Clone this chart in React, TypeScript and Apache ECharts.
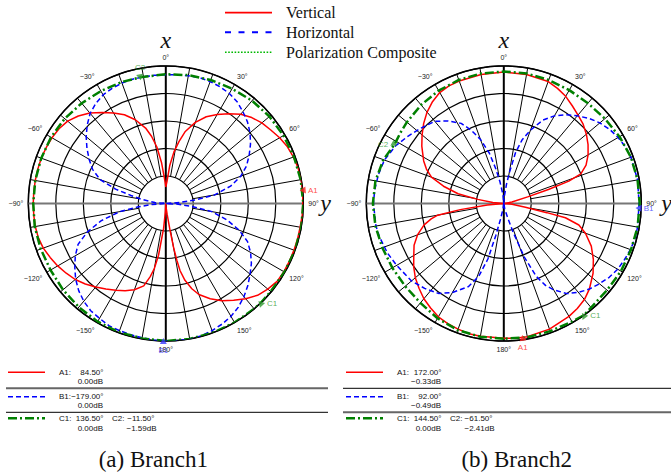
import React, { useEffect, useRef } from 'react';
import * as echarts from 'echarts';

// ---------- layout ----------
const W = 671;
const H = 472;
const CX = [165.8, 503.8];
const CY = 203.5;
const R = 137.5;
const Y_LABEL_GAP = [17, 20];

// ---------- axes ----------
const angleTicks = [-180, -150, -120, -90, -60, -30, 0, 30, 60, 90, 120, 150, 180];
const ringLevels = [-5, -10, -15, -20];
const spokeAngles = [-170, -160, -150, -140, -130, -120, -110, -100, -80, -70, -60, -50, -40, -30, -20, -10,
  10, 20, 30, 40, 50, 60, 70, 80, 100, 110, 120, 130, 140, 150, 160, 170];

// ---------- Branch1 ----------
const b1VertAng = [-180, -177, -175, -172, -170, -168, -165, -160, -155, -150, -145, -140, -135, -130, -125, -120, -115, -110, -105, -100, -95, -90, -85, -80, -75, -70, -65, -60, -55, -50, -45, -40, -35, -30, -25, -20, -15, -12, -9, -6, -4, -2, 0, 3, 6, 9, 12, 15, 20, 25, 30, 35, 40, 45, 50, 55, 60, 65, 70, 75, 80, 85, 90, 95, 100, 105, 110, 115, 120, 125, 130, 135, 140, 145, 150, 155, 160, 163, 166, 168, 169, 170, 171, 173, 177, 180];
const b1VertDb = [-25, -23.5, -20.5, -15.5, -13, -11.4, -9.5, -8.3, -7.5, -6.8, -6.0, -5.2, -4.3, -3.5, -2.9, -2.3, -1.8, -1.3, -1.0, -0.9, -0.9, -0.9, -0.9, -0.9, -0.9, -0.9, -1.0, -1.1, -1.3, -1.7, -2.5, -3.5, -4.8, -6.0, -7.2, -8.8, -10.8, -12.5, -14.6, -17.5, -19.8, -21, -22, -21, -18, -15.5, -13.5, -11.5, -9.3, -7.6, -6.3, -5.1, -3.8, -2.9, -2.2, -1.7, -1.1, -0.6, -0.3, -0.1, 0, 0, -0.1, -0.1, -0.2, -0.2, -0.2, -0.2, -0.2, -0.3, -0.8, -1.4, -2.4, -3.5, -4.6, -5.9, -7.4, -8.8, -10.6, -12.5, -14.5, -17, -20, -23, -24.5, -25];

const b1HorAng = [-180, -175, -170, -165, -160, -155, -150, -145, -140, -135, -130, -125, -120, -115, -110, -105, -100, -97, -94, -90, -85, -80, -77, -74, -70, -65, -60, -55, -50, -45, -40, -35, -30, -25, -20, -15, -10, -5, 0, 5, 10, 15, 20, 25, 30, 35, 40, 45, 50, 55, 60, 65, 70, 75, 80, 83, 86, 90, 93, 96, 100, 105, 110, 115, 120, 125, 130, 135, 140, 145, 150, 155, 160, 165, 170, 175, 180];
const b1HorDb = [0, -0.1, -0.2, -0.3, -0.4, -0.5, -0.9, -1.2, -1.8, -2.6, -3.6, -4.8, -6.0, -7.4, -9.8, -12.8, -16.5, -20, -22.5, -25, -23, -20.5, -18.5, -15.5, -12.3, -10.3, -8.9, -7.5, -6.1, -4.8, -3.6, -2.8, -2.2, -1.9, -1.7, -1.6, -1.6, -1.6, -1.6, -1.5, -1.4, -1.3, -1.4, -1.6, -1.9, -2.4, -3.2, -4.0, -5.0, -6.2, -7.5, -8.8, -10.5, -12.8, -16, -19.5, -22.5, -25, -23, -20.5, -16.5, -13.5, -10.8, -8.6, -7.2, -6.0, -5.0, -3.9, -2.9, -2.0, -1.3, -0.8, -0.4, -0.1, 0, 0, 0];

const b1CompAng = [-180, -170, -160, -150, -140, -130, -120, -110, -100, -90, -80, -70, -60, -50, -40, -30, -20, -11.5, 0, 10, 20, 30, 40, 50, 60, 70, 80, 90, 100, 110, 120, 130, 136.5, 140, 150, 160, 170, 180];
const b1CompDb = [0, -0.1, -0.1, -0.2, -0.4, -0.6, -0.8, -0.8, -0.8, -0.9, -0.9, -0.9, -0.9, -1.0, -1.2, -1.4, -1.5, -1.59, -1.5, -1.3, -1.1, -0.9, -0.6, -0.4, -0.3, -0.2, -0.1, 0, 0, 0, -0.1, -0.1, 0, 0, 0, 0, 0, 0];

const b1MarkNames = ['A1', 'B1', 'C1', 'C2'];
const b1MarkAng = [84.5, -179, 136.5, -11.5];
const b1MarkDb = [0, 0, 0, -1.59];

// ---------- Branch2 ----------
const b2VertAng = [-180, -170, -165, -160, -155, -150, -145, -140, -135, -130, -125, -120, -115, -110, -105, -102, -100, -98, -95, -90, -85, -81, -78, -74, -70, -66, -62, -58, -55, -50, -45, -40, -35, -30, -25, -20, -10, 0, 10, 20, 25, 30, 35, 40, 45, 50, 55, 60, 65, 69, 71, 72.5, 74.5, 80, 90, 95, 100, 102, 103, 106, 110, 116, 122, 128, 135, 140, 145, 150, 160, 170, 175, 180];
const b2VertDb = [-0.5, -0.5, -0.5, -0.7, -0.9, -1.2, -1.8, -2.4, -3.2, -4.0, -5.0, -6.1, -7.0, -8.3, -10.0, -11.5, -12.8, -17, -22, -25, -23, -20.2, -16.5, -13.6, -11, -9.6, -8.5, -7.6, -6.8, -5.6, -4.4, -3.3, -2.4, -1.7, -1.4, -1.3, -1.2, -1.1, -1.2, -1.4, -1.9, -2.5, -3.3, -4.0, -4.6, -5.4, -6.3, -7.3, -8.5, -10.0, -12.5, -16.5, -20.5, -23.5, -25, -23.5, -21, -17, -13.5, -10.8, -9.2, -7.3, -5.8, -4.4, -3.0, -2.2, -1.7, -1.3, -0.7, -0.4, -0.4, -0.5];

const b2HorAng = [-180, -172, -168, -166, -164, -161, -157, -150, -144, -137, -130, -120, -113, -105, -100, -90, -84, -77, -70, -62, -55, -48, -40, -34, -28, -24, -20, -16, -13, -10, -5, 0, 5, 8, 10, 13, 16, 20, 25, 30, 35, 40, 45, 50, 55, 60, 65, 70, 80, 90, 100, 105, 110, 115, 120, 125, 130, 135, 140, 145, 150, 153, 156, 159, 162, 165, 170, 180];
const b2HorDb = [-25, -24, -22, -19, -14.5, -11, -8.6, -6.3, -4.8, -3.9, -3.1, -2.5, -2.0, -1.6, -1.4, -1.3, -1.4, -1.6, -1.9, -2.7, -3.7, -4.6, -5.5, -6.9, -8.5, -10.4, -12.6, -15.5, -18.5, -21, -23.5, -25, -23.5, -21.5, -19.5, -15.5, -13, -10.8, -8.3, -6.6, -5.3, -4.2, -3.1, -2.2, -1.5, -1.0, -0.6, -0.4, -0.3, -0.4, -0.3, -0.3, -0.5, -0.8, -1.1, -1.6, -2.3, -3.0, -3.9, -5.0, -6.9, -8.3, -10.5, -14.5, -19.5, -22.5, -24, -25];

const b2CompAng = [-180, -170, -160, -150, -140, -130, -120, -110, -100, -90, -80, -70, -61.5, -55, -50, -40, -30, -20, -10, 0, 10, 20, 30, 40, 50, 60, 70, 80, 90, 100, 110, 120, 130, 140, 144.5, 150, 160, 170, 180];
const b2CompDb = [-0.4, -0.4, -0.5, -0.9, -1.4, -1.6, -1.6, -1.5, -1.3, -1.2, -1.3, -1.7, -2.41, -2.2, -2.0, -1.6, -1.3, -1.1, -1.0, -1.0, -1.0, -1.1, -1.2, -1.2, -1.0, -0.7, -0.4, -0.3, -0.3, -0.3, -0.4, -0.4, -0.5, -0.3, 0, -0.2, -0.3, -0.3, -0.4];

const b2MarkNames = ['A1', 'B1', 'C1', 'C2'];
const b2MarkAng = [172, 92, 144.5, -61.5];
const b2MarkDb = [-0.33, -0.49, 0, -2.41];

// ---------- styles ----------
const RED = '#ff0000';
const BLUE = '#0000ff';
const GREEN = '#008000';
const markColors = ['#ff2020', '#3a3aff', '#2f9a2f', '#2f9a2f'];
const b1LabelPos = ['right', 'bottom', 'right', 'top'];
const b2LabelPos = ['bottom', 'right', 'right', 'left'];
const SANS = '"Liberation Sans", Arial, sans-serif';
const SERIF = '"Liberation Serif", "Times New Roman", serif';

const pairs = (ang: number[], db: number[]) => ang.map((a, i) => [db[i], a]);
const fmtNum = (v: number) => (v < 0 ? '\u2212' : '') + Math.abs(v).toFixed(2);
const fmtAngle = (v: number) => {
  const a = v === -180 ? 180 : v;
  return (a < 0 ? '\u2212' + -a : String(a)) + '°';
};

function polarSeries(pi: number, vAng: number[], vDb: number[], hAng: number[], hDb: number[],
  cAng: number[], cDb: number[], mNames: string[], mAng: number[], mDb: number[], mPos: string[]) {
  const spokeData: any[] = [];
  spokeAngles.forEach((a) => { spokeData.push([-20, a], [0, a], ['-', '-']); });
  const base = { coordinateSystem: 'polar', polarIndex: pi, symbol: 'none', silent: true, animation: false };
  return [
    { ...base, type: 'line', data: spokeData, lineStyle: { color: '#000', width: 1 }, z: 1 },
    { ...base, type: 'line', data: [[0, 0], [-25, 0], [0, 180]], lineStyle: { color: '#000', width: 2 }, z: 1 },
    { ...base, type: 'line', data: [[0, -90], [-25, 0], [0, 90]], lineStyle: { color: '#777', width: 2 }, z: 1 },
    {
      ...base, type: 'scatter', symbolSize: 1, itemStyle: { color: 'rgba(0,0,0,0)' },
      data: ringLevels.map((r) => [r, 0]),
      label: { show: true, position: 'right', distance: 1, fontSize: 7, color: '#111', fontFamily: SANS, formatter: (p: any) => String(-p.value[0]) }, z: 3,
    },
    {
      ...base, type: 'scatter', symbolSize: 1, itemStyle: { color: 'rgba(0,0,0,0)' },
      data: ringLevels.map((r) => [r, 180]),
      label: { show: true, position: 'left', distance: 1, fontSize: 7, color: '#111', fontFamily: SANS, formatter: (p: any) => String(-p.value[0]) }, z: 3,
    },
    { ...base, type: 'line', name: 'Vertical', data: pairs(vAng, vDb), lineStyle: { color: RED, width: 1.5 }, z: 4 },
    { ...base, type: 'line', name: 'Horizontal', data: pairs(hAng, hDb), lineStyle: { color: BLUE, width: 1.5, type: [5, 3] }, z: 5 },
    { ...base, type: 'line', name: 'Polarization Composite', data: pairs(cAng, cDb), lineStyle: { color: GREEN, width: 2.5, type: [9, 3, 2, 3] }, z: 6 },
    {
      ...base, type: 'scatter', symbol: 'triangle', symbolSize: [7, 6], z: 8,
      data: mNames.map((n, i) => ({
        name: n, value: [mDb[i], mAng[i]], symbolRotate: -(mAng[i] + 180),
        itemStyle: { color: markColors[i] },
        label: { show: true, position: mPos[i], distance: 2, formatter: n, color: markColors[i], fontSize: 8, fontFamily: SANS },
      })),
    },
  ];
}

function tableGraphics(x0: number, names: string[], angs: number[], dbs: number[], firstSepGrey: boolean) {
  const els: any[] = [];
  const txt = (x: number, y: number, s: string, align = 'left') => ({
    type: 'text', x, y, silent: true,
    style: { text: s, fontSize: 8, fontFamily: SANS, fill: '#111', align, verticalAlign: 'middle' },
  });
  const ln = (x1: number, y: number, x2: number, stroke: string, lw: number, dash?: number[]) => ({
    type: 'line', silent: true, shape: { x1, y1: y, x2, y2: y },
    style: { stroke, lineWidth: lw, lineDash: dash },
  });
  const right = x0 === 0 ? 328 : 671;
  const left = x0 === 0 ? 6 : 343;
  els.push(ln(x0 + 8, 372.3, x0 + 45, RED, 1.5));
  els.push(txt(x0 + 59, 372.5, names[0] + ':'));
  els.push(txt(x0 + 103.5, 372.5, fmtNum(angs[0]) + '°', 'right'));
  els.push(txt(x0 + 103, 381.5, fmtNum(dbs[0]) + 'dB', 'right'));
  els.push(firstSepGrey ? ln(left, 388.3, right, '#666', 2) : ln(left, 388.3, right, '#000', 1));
  els.push(ln(x0 + 8, 396.7, x0 + 45, BLUE, 1.5, [5, 3]));
  els.push(txt(x0 + 59, 396.7, names[1] + ':'));
  els.push(txt(x0 + 103.5, 396.7, fmtNum(angs[1]) + '°', 'right'));
  els.push(txt(x0 + 103, 405.7, fmtNum(dbs[1]) + 'dB', 'right'));
  els.push(firstSepGrey ? ln(left, 412.3, right, '#000', 1) : ln(left, 412.3, right, '#666', 2));
  els.push(ln(x0 + 8, 418.3, x0 + 45, GREEN, 2.5, [9, 3, 2, 3]));
  els.push(txt(x0 + 59, 418.5, names[2] + ':'));
  els.push(txt(x0 + 103.5, 418.5, fmtNum(angs[2]) + '°', 'right'));
  els.push(txt(x0 + 103, 428.3, fmtNum(dbs[2]) + 'dB', 'right'));
  els.push(txt(x0 + 112, 418.5, names[3] + ':'));
  els.push(txt(x0 + 154.5, 418.5, fmtNum(angs[3]) + '°', 'right'));
  els.push(txt(x0 + 156.5, 428.3, fmtNum(dbs[3]) + 'dB', 'right'));
  return els;
}

export default function App() {
  const ref = useRef<HTMLDivElement>(null);
  useEffect(() => {
    document.body.style.margin = '0';
    if (!ref.current) return;
    const chart = echarts.init(ref.current, undefined, { renderer: 'svg' });

    const angleAxisFor = (pi: number) => ({
      polarIndex: pi, type: 'value', min: angleTicks[0], max: angleTicks[angleTicks.length - 1], interval: 30, startAngle: 270, clockwise: true,
      axisLine: { show: true, lineStyle: { color: '#000', width: 1.5 } },
      axisTick: { show: false },
      splitLine: { show: false },
      axisLabel: { show: true, fontSize: 7, color: '#222', margin: 5, fontFamily: SANS, formatter: fmtAngle },
    });
    const radiusAxisFor = (pi: number) => ({
      polarIndex: pi, type: 'value', min: -25, max: 0, interval: 5,
      axisLine: { show: false }, axisTick: { show: false }, axisLabel: { show: false },
      splitLine: { show: true, lineStyle: { color: '#000', width: 1.2 } },
    });

    const legendItems = [
      { name: 'Vertical', y: 12.7, stroke: RED, lw: 1.8, dash: undefined as any },
      { name: 'Horizontal', y: 32.3, stroke: BLUE, lw: 2, dash: [6, 7.5] },
      { name: 'Polarization Composite', y: 52.3, stroke: '#00b800', lw: 1.6, dash: [1.6, 1.6] },
    ];
    const graphics: any[] = [];
    legendItems.forEach((it) => {
      graphics.push({ type: 'line', silent: true, shape: { x1: 225, y1: it.y, x2: 272, y2: it.y }, style: { stroke: it.stroke, lineWidth: it.lw, lineDash: it.dash } });
      graphics.push({ type: 'text', silent: true, x: 286, y: it.y, style: { text: it.name, font: `16px ${SERIF}`, fill: '#111', verticalAlign: 'middle' } });
    });
    [0, 1].forEach((i) => {
      graphics.push({ type: 'text', silent: true, x: CX[i], y: CY - R - 26, style: { text: 'x', font: `italic 24px ${SERIF}`, fill: '#111', align: 'center', verticalAlign: 'middle' } });
      graphics.push({ type: 'text', silent: true, x: CX[i] + R + Y_LABEL_GAP[i], y: CY - 1, style: { text: 'y', font: `italic 24px ${SERIF}`, fill: '#111', align: 'left', verticalAlign: 'middle' } });
    });
    graphics.push(...tableGraphics(0, b1MarkNames, b1MarkAng, b1MarkDb, true));
    graphics.push(...tableGraphics(338, b2MarkNames, b2MarkAng, b2MarkDb, false));
    graphics.push({ type: 'text', silent: true, x: 153.3, y: 459.5, style: { text: '(a) Branch1', font: `23px ${SERIF}`, fill: '#111', align: 'center', verticalAlign: 'middle' } });
    graphics.push({ type: 'text', silent: true, x: 516.7, y: 459.5, style: { text: '(b) Branch2', font: `23px ${SERIF}`, fill: '#111', align: 'center', verticalAlign: 'middle' } });

    chart.setOption({
      animation: false,
      backgroundColor: '#fff',
      polar: [
        { center: [CX[0], CY], radius: [0, R] },
        { center: [CX[1], CY], radius: [0, R] },
      ],
      angleAxis: [angleAxisFor(0), angleAxisFor(1)],
      radiusAxis: [radiusAxisFor(0), radiusAxisFor(1)],
      series: [
        ...polarSeries(0, b1VertAng, b1VertDb, b1HorAng, b1HorDb, b1CompAng, b1CompDb, b1MarkNames, b1MarkAng, b1MarkDb, b1LabelPos),
        ...polarSeries(1, b2VertAng, b2VertDb, b2HorAng, b2HorDb, b2CompAng, b2CompDb, b2MarkNames, b2MarkAng, b2MarkDb, b2LabelPos),
      ],
      graphic: graphics,
    });
    return () => chart.dispose();
  }, []);
  return <div ref={ref} style={{ position: 'absolute', left: 0, top: 0, width: W, height: H }} />;
}
